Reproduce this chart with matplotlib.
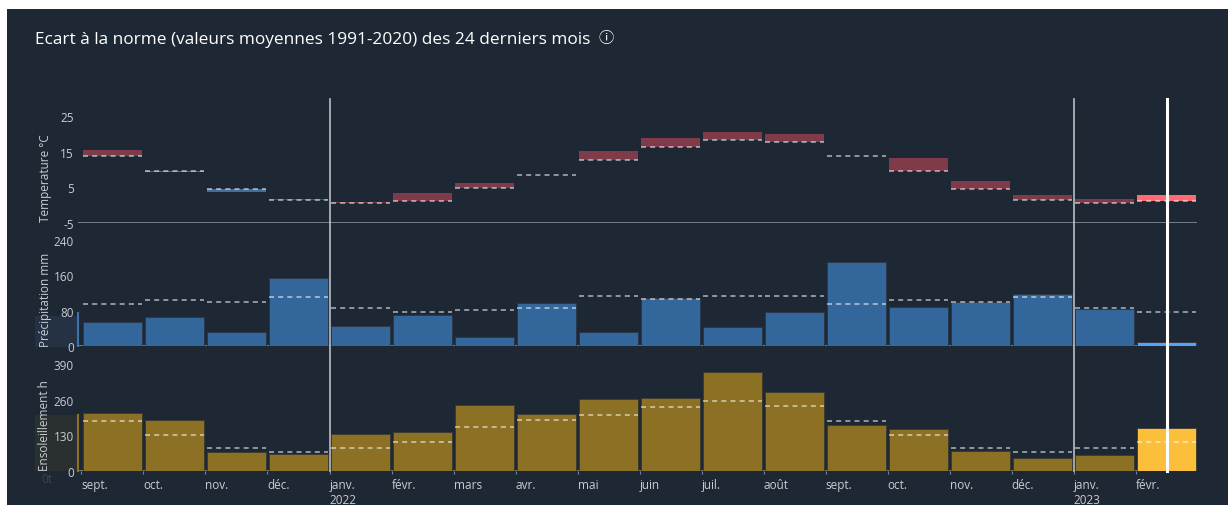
import matplotlib.pyplot as plt
import numpy as np
from matplotlib.patches import Rectangle

# months shown (sept 2021 -> févr 2023)
months = ["sept.", "oct.", "nov.", "déc.", "janv.", "févr.", "mars", "avr.", "mai",
          "juin", "juil.", "août", "sept.", "oct.", "nov.", "déc.", "janv.", "févr."]
year_idx = [4, 16]
years = ["2022", "2023"]

temp_actual = [15.4, 9.2, 3.8, 1.7, 0.8, 3.4, 6.1, 8.4, 15.3, 18.9, 20.5, 19.9,
               13.7, 13.3, 6.7, 2.8, 1.7, 2.8]
temp_normal = [13.7, 9.6, 4.6, 1.4, 0.6, 1.2, 4.9, 8.4, 12.6, 16.2, 18.2, 17.7,
               13.7, 9.6, 4.6, 1.4, 0.6, 1.2]

precip_actual = [54, 66, 32, 154, 45, 70, 21, 98, 32, 108, 44, 77,
                 191, 89, 100, 118, 84, 9]
precip_normal = [95, 104, 99, 110, 87, 77, 81, 86, 113, 106, 113, 113,
                 95, 104, 99, 110, 87, 77]

sun_actual = [212, 185, 69, 62, 135, 142, 240, 209, 263, 265, 362, 287,
              168, 152, 74, 48, 57, 158]
sun_normal = [183, 131, 84, 71, 84, 107, 161, 186, 204, 232, 255, 237,
              183, 131, 84, 71, 84, 107]

year_breaks = [3.5, 15.5]
current = 17

W, H = 1228, 506
BG = "#1e2834"
TXT = "#c9cdd3"
AXIS = "#7d848d"
DASH = (1, 1, 1, 0.6)

plt.rcParams.update({
    "font.family": ["Open Sans", "DejaVu Sans"],
    "font.size": 8.5,
    "text.color": TXT,
    "axes.unicode_minus": False,
})


def px_axes(fig, left, top, right, bottom):
    ax = fig.add_axes([left / W, 1 - bottom / H, (right - left) / W, (bottom - top) / H])
    ax.set_facecolor("none")
    for s in ax.spines.values():
        s.set_visible(False)
    ax.tick_params(axis="y", length=0, pad=3, colors=TXT, labelsize=8.5)
    ax.tick_params(axis="x", length=0, labelbottom=False)
    ax.set_xlim(-0.556, 17.49)
    return ax


fig = plt.figure(figsize=(W / 100, H / 100), dpi=100, facecolor="white")
fig.patches.append(Rectangle((7 / W, 0), 1 - 7 / W, 1 - 10 / H, transform=fig.transFigure,
                             facecolor=BG, edgecolor="none", zorder=-10))
# hover highlight left over in the screenshot, behind two axis titles
fig.patches.append(Rectangle((35 / W, 1 - 348 / H), 43 / W, 31 / H, transform=fig.transFigure,
                             facecolor="#243244", edgecolor="none", zorder=-9))
fig.patches.append(Rectangle((35 / W, 1 - 472 / H), 43 / W, 56 / H, transform=fig.transFigure,
                             facecolor="#2a2f30", edgecolor="none", zorder=-9))

fig.text(35 / W, 1 - 40 / H, "Ecart à la norme (valeurs moyennes 1991-2020) des 24 derniers mois",
         fontsize=12.4, color="white", ha="left", va="center")
fig.text(606 / W, 1 - 39 / H, "ⓘ", fontsize=11, color="white", ha="center", va="center",
         family=["DejaVu Sans", "Noto Sans CJK SC"])

x = np.arange(len(months))
bw = 0.94
n = len(months)

# --- temperature
ax_t = px_axes(fig, 78, 99.2, 1197, 224)
ax_t.set_ylim(-5, 30)
ax_t.set_yticks([-5, 5, 15, 25])
ta = np.array(temp_actual)
tn = np.array(temp_normal)
t_col = ["#803b4b" if a >= b else "#3d6fa6" for a, b in zip(ta, tn)]
t_col[-1] = "#ff6b73"
ax_t.bar(x, np.abs(ta - tn), bottom=np.minimum(ta, tn), width=bw, color=t_col, zorder=2)
ax_t.hlines(tn, x - bw / 2, x + bw / 2, colors=[DASH], linestyles=(0, (3, 2.5)), lw=1.2, zorder=3)
ax_t.axhline(-5, color=AXIS, lw=1.3, zorder=1)

# --- precipitation
ax_p = px_axes(fig, 78, 236.6, 1197, 347)
ax_p.set_ylim(0, 250)
ax_p.set_yticks([0, 80, 160, 240])
p_col = ["#33669a"] * n
p_col[-1] = "#5ba3f0"
ax_p.bar(x, precip_actual, width=bw, color=p_col, edgecolor="#2a3645", lw=0.6, zorder=2)
ax_p.hlines(precip_normal, x - bw / 2, x + bw / 2, colors=[DASH], linestyles=(0, (3, 2.5)),
            lw=1.2, zorder=3)
ax_p.axhline(0, color=AXIS, lw=1.3, zorder=1)
ax_p.plot([-0.556, -0.556], [0, 75], color="#3d72aa", lw=1.5, clip_on=False, zorder=1)

# --- sunshine
ax_s = px_axes(fig, 78, 356.8, 1197, 472)
ax_s.set_ylim(0, 420)
ax_s.set_yticks([0, 130, 260, 390])
s_col = ["#8c7124"] * n
s_col[-1] = "#fbbf3c"
ax_s.bar(x, sun_actual, width=bw, color=s_col, edgecolor="#3a3a30", lw=0.6, zorder=2)
ax_s.hlines(sun_normal, x - bw / 2, x + bw / 2, colors=[DASH], linestyles=(0, (3, 2.5)),
            lw=1.2, zorder=3)
ax_s.axhline(0, color=AXIS, lw=1.3, zorder=1)
ax_s.plot([-0.556, -0.556], [0, 205], color="#8c7124", lw=1.5, clip_on=False, zorder=1)

labels = list(months)
for i, y in zip(year_idx, years):
    labels[i] = labels[i] + "\n" + y
ax_s.set_xticks(x - 0.5)
ax_s.set_xticklabels(labels, ha="left", va="top", linespacing=1.25)
ax_s.tick_params(axis="x", length=2, color=AXIS, labelbottom=True, pad=3, colors=TXT,
                 labelsize=8.5)

# vertical markers across all three panels (drawn on last axes, extend upward)
ymax = (472 - 100) / (472 - 356.8)
for xb in year_breaks:
    ax_s.axvline(xb, ymin=0, ymax=ymax, color="#b9bdc3", lw=1.2, clip_on=False, zorder=5)
ax_s.axvline(current, ymin=0, ymax=ymax, color="white", lw=2.2, clip_on=False, zorder=5)

# axis titles, anchored at baselines
ylab = dict(rotation=90, ha="center", va="bottom", fontsize=8.5, color=TXT)
fig.text(45 / W, 1 - 222 / H, "Temperature °C", **ylab)
fig.text(45 / W, 1 - 347 / H, "Précipitation mm", **ylab)
fig.text(45 / W, 1 - 471 / H, "Ensoleillement h", **ylab)
fig.text(47 / W, 1 - 480 / H, "0t", fontsize=8.5, color="#3a4452", ha="center", va="center")

fig.savefig("out.png", dpi=100, facecolor="white")
